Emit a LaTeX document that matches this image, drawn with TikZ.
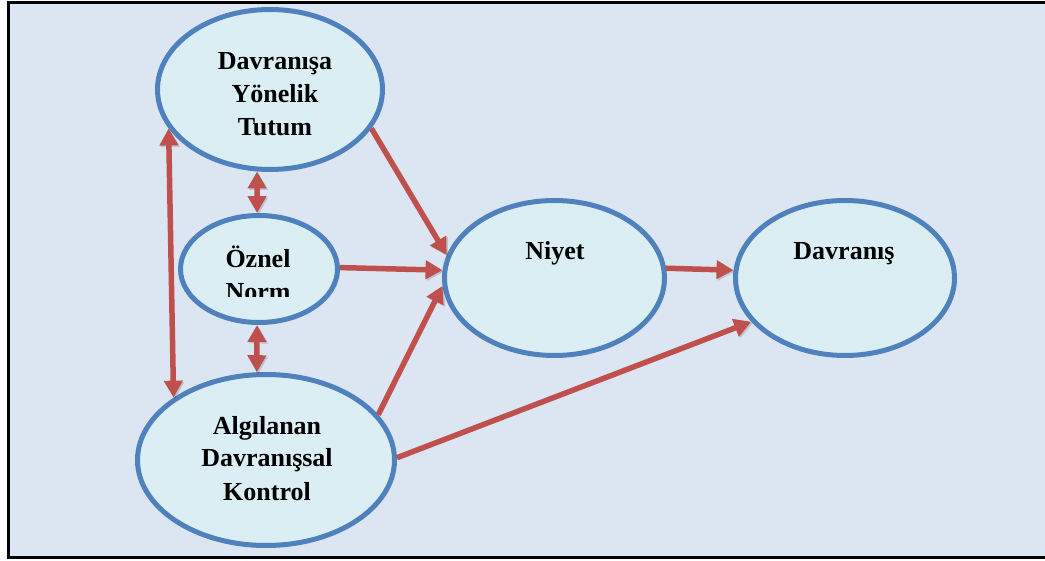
\documentclass[tikz,border=0pt]{standalone}
\usepackage{fontspec}
\setmainfont{Liberation Serif}
\usetikzlibrary{shapes.geometric,arrows.meta}
\definecolor{pagebg}{RGB}{220,230,242}
\definecolor{bubblefill}{RGB}{219,238,244}
\definecolor{bubbleline}{RGB}{79,129,189}
\definecolor{linkred}{RGB}{192,80,77}
\begin{document}
\begin{tikzpicture}[x=1pt,y=-1pt,
  bubble/.style={ellipse, draw=bubbleline, fill=bubblefill, line width=5pt,
    inner sep=0pt, outer sep=2.5pt},
  caption/.style={font=\fontsize{26}{33}\selectfont\bfseries, align=center,
    inner sep=0pt, anchor=base},
  tip/.tip={Triangle[width=18pt,length=17pt]},
  link/.style={draw=linkred, line width=5.5pt, -tip,
    preaction={draw=black, opacity=0.15,
      transform canvas={xshift=1.5pt,yshift=-1.5pt}}},
  twoway/.style={link, tip-tip}
]
% page and frame
\path[use as bounding box] (0,0) rectangle (1045,561);
\draw[fill=pagebg, line width=3pt] (8,3) rectangle (1052,557);

% ellipses
\node[bubble, minimum width=225pt, minimum height=160pt] (tutum) at (270,89.5) {};
\node[bubble, minimum width=157pt, minimum height=107pt] (oznel) at (259,269) {};
\node[bubble, minimum width=257pt, minimum height=171pt] (algi) at (266,460) {};
\node[bubble, minimum width=220pt, minimum height=155pt] (niyet) at (554.5,278) {};
\node[bubble, minimum width=219pt, minimum height=155pt] (davranis) at (845,278) {};

% labels (the base anchor sits on the last line)
\node[caption] (tutumtext) at (275,136) {Davranışa\\Yönelik\\Tutum};
\begin{scope}
  \clip (180,220) rectangle (340,297);
  \node[caption] (oznetext) at (258,301) {Öznel\\Norm};
\end{scope}
\node[caption] (algitext) at (267,500) {Algılanan\\Davranışsal\\Kontrol};
\node[caption] (niyettext) at (555,260) {Niyet};
\node[caption] (davtext) at (844,260) {Davranış};

% links
\draw[link] (tutum.-21) -- (niyet.168);
\draw[link] (oznel.1) -- (niyet.176);
\draw[link] (algi.22) -- (niyet.184);
\draw[link] (niyet.5) -- (davranis.176);
\draw[link] (algi.1) -- (davranis.205);
\draw[twoway] (tutum.201) -- (algi.146);
\draw[twoway] (tutum.261) -- (oznel.92);
\draw[twoway] (oznel.268) -- (algi.96);
\end{tikzpicture}
\end{document}
